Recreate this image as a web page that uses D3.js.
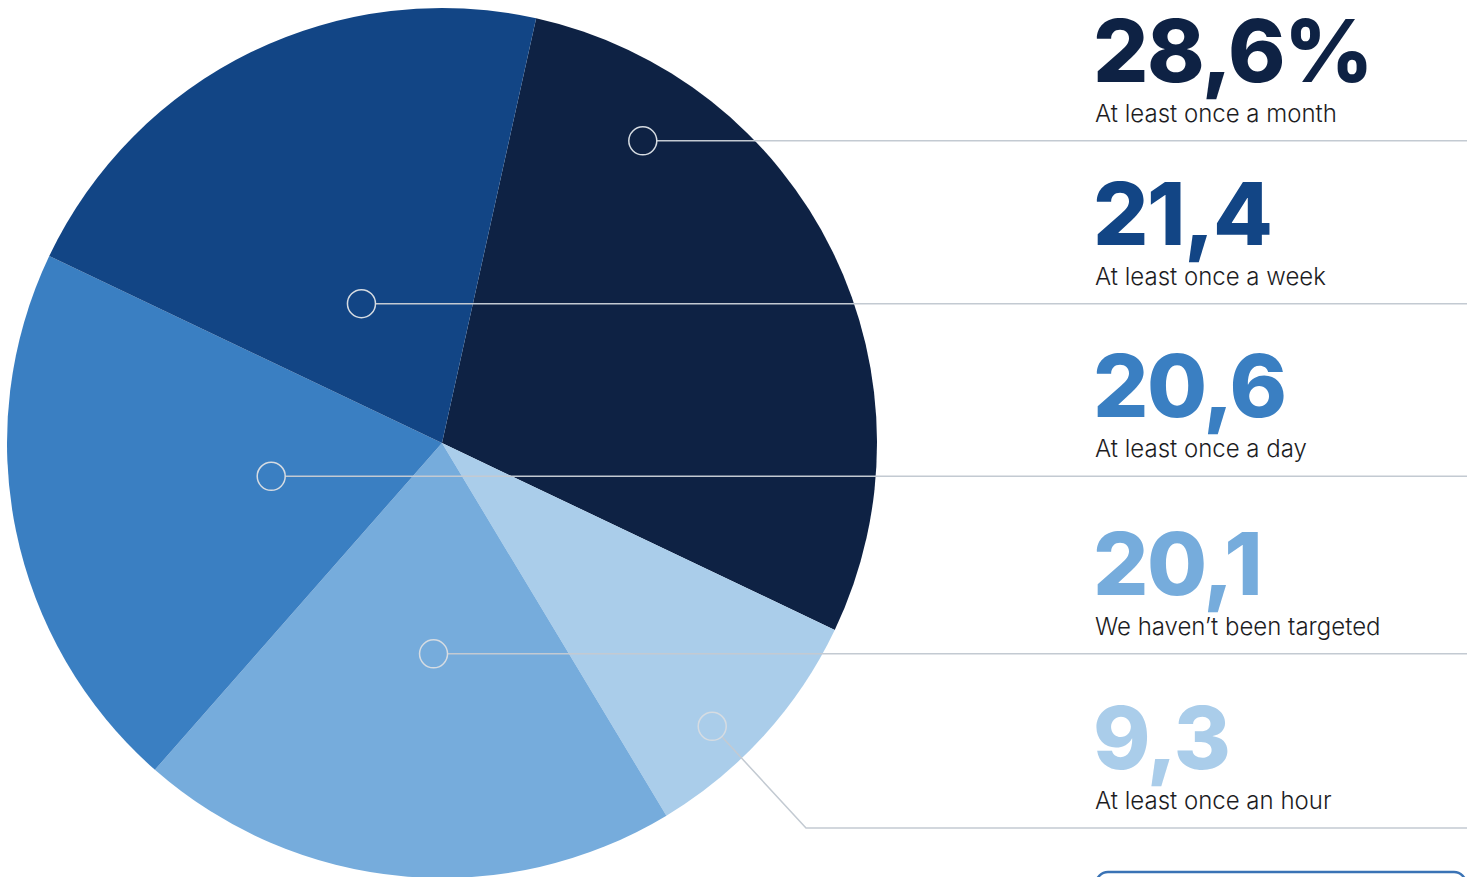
<!DOCTYPE html>
<html>
<head>
<meta charset="utf-8">
<script src="https://cdn.jsdelivr.net/npm/d3@7"></script>
<style>
  html, body { margin: 0; padding: 0; background: #fff; overflow: hidden; }
  .num { font-family: Inter, "Open Sans", sans-serif; font-weight: 800; }
  .lbl { font-family: Inter, "Open Sans", sans-serif; font-weight: 300; fill: #1d1d1f; }
</style>
</head>
<body>
<div class="canvas"></div>
<script>
// data
const categories = ['At least once a month', 'At least once an hour', "We haven\u2019t been targeted", 'At least once a day', 'At least once a week'];
const values = [28.6, 9.3, 20.1, 20.6, 21.4];
const valueLabels = ['28,6%', '9,3', '20,1', '20,6', '21,4'];
const colors = ['#0e2244', '#aacdea', '#76acdc', '#3a7fc2', '#124585'];

// where each marker sits inside its slice: share of the slice's sweep, share of the radius
const markerAt = [[0.205, 0.834], [0.624, 0.90], [0.461, 0.485], [0.508, 0.40], [0.448, 0.37]];

const width = 1478, height = 877;
const cx = 442, cy = 443, radius = 435;
const labelX = 1095, lineEnd = 1467;
const startAngle = 12.5 * Math.PI / 180;

const svg = d3.select('.canvas')
    .append('svg')
    .attr('width', width)
    .attr('height', height);

const data = categories.map((c, i) => ({ name: c, value: values[i], text: valueLabels[i], color: colors[i], at: markerAt[i] }));

const pie = d3.pie()
    .sort(null)
    .value(d => d.value)
    .startAngle(startAngle)
    .endAngle(startAngle + 2 * Math.PI);

const arc = d3.arc().innerRadius(0).outerRadius(radius);

const graph = svg.append('g')
    .attr('transform', `translate(${cx}, ${cy})`);

const arcs = pie(data);

graph.selectAll('path')
    .data(arcs)
    .enter()
    .append('path')
    .attr('d', arc)
    .attr('fill', d => d.data.color);

// marker positions in page coordinates
arcs.forEach(d => {
    const a = d.startAngle + (d.endAngle - d.startAngle) * d.data.at[0];
    const p = d3.pointRadial(a, radius * d.data.at[1]);
    d.mx = cx + p[0];
    d.my = cy + p[1];
});

// the hour slice gets a kinked leader down to its own row
const hour = arcs[1];
hour.rowY = 828;
hour.kinkX = 806;
arcs.forEach(d => { if (d.rowY === undefined) d.rowY = d.my; });

const lines = svg.append('g');
const mr = 14;
arcs.forEach(d => {
    let path;
    if (d.kinkX) {
        const ang = Math.atan2(d.rowY - d.my, d.kinkX - d.mx);
        const sx = d.mx + mr * Math.cos(ang), sy = d.my + mr * Math.sin(ang);
        path = `M${sx},${sy}L${d.kinkX},${d.rowY}L${lineEnd},${d.rowY}`;
    } else {
        path = `M${d.mx + mr},${d.my}L${lineEnd},${d.rowY}`;
    }
    lines.append('path')
        .attr('d', path)
        .attr('fill', 'none')
        .attr('stroke', '#c3cad2')
        .attr('stroke-width', 1.5);
});

svg.append('g').selectAll('circle')
    .data(arcs)
    .enter()
    .append('circle')
    .attr('cx', d => d.mx)
    .attr('cy', d => d.my)
    .attr('r', mr)
    .attr('fill', 'none')
    .attr('stroke', '#d6dce2')
    .attr('stroke-width', 1.5);

// right-hand labels
const labels = svg.append('g');
arcs.forEach(d => {
    labels.append('text')
        .attr('class', 'num')
        .attr('x', labelX - 2)
        .attr('y', d.rowY - 59)
        .attr('font-size', 87)
        .attr('letter-spacing', -1.5)
        .attr('fill', d.data.color)
        .text(d.data.text);
    labels.append('text')
        .attr('class', 'lbl')
        .attr('x', labelX)
        .attr('y', d.rowY - 19)
        .attr('font-size', 24)
        .text(d.data.name);
});

// partial box at the bottom
svg.append('rect')
    .attr('x', 1096)
    .attr('y', 872)
    .attr('width', 370)
    .attr('height', 60)
    .attr('rx', 12)
    .attr('fill', 'none')
    .attr('stroke', '#3a73b5')
    .attr('stroke-width', 2.5);
</script>
</body>
</html>
